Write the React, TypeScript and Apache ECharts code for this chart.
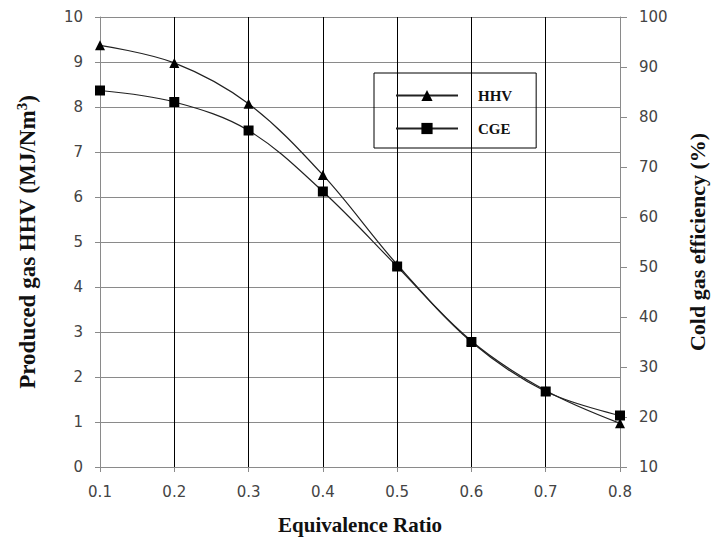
import React, { useEffect, useRef } from "react";
import * as echarts from "echarts";

const ratios = ["0.1", "0.2", "0.3", "0.4", "0.5", "0.6", "0.7", "0.8"];
const hhv = [9.37, 8.98, 8.07, 6.49, 4.5, 2.8, 1.7, 0.97];
const cge = [85.3, 83.0, 77.3, 65.1, 50.1, 35.0, 25.1, 20.3];

export default function App() {
  const ref = useRef<HTMLDivElement>(null);
  useEffect(() => {
    if (!ref.current) return;
    const chart = echarts.init(ref.current, null, { renderer: "svg" });
    const tickFont = { fontFamily: "DejaVu Sans", fontSize: 15, color: "#444" };
    const titleFont = { fontFamily: "Liberation Serif", fontWeight: "bold" as const, fontSize: 21, color: "#111" };
    const gray = "#8a8a8a";
    chart.setOption({
      animation: false,
      backgroundColor: "#fff",
      grid: { left: 100, right: 87, top: 17, bottom: 79 },
      legend: {
        orient: "vertical",
        left: 374,
        top: 73,
        borderColor: "#000",
        borderWidth: 1,
        padding: [15, 24, 12, 21],
        itemGap: 18,
        itemWidth: 62,
        itemHeight: 14,
        textStyle: {
          fontFamily: "Liberation Serif",
          fontWeight: "bold",
          fontSize: 15,
          lineHeight: 14,
          color: "#111",
          padding: [0, 0, 0, 15],
        },
        data: ["HHV", "CGE"],
      },
      xAxis: {
        type: "category",
        data: ratios,
        boundaryGap: false,
        name: "Equivalence Ratio",
        nameLocation: "middle",
        nameGap: 47,
        nameTextStyle: titleFont,
        axisLine: { lineStyle: { color: gray } },
        axisTick: { show: true, length: 5, lineStyle: { color: gray } },
        axisLabel: { ...tickFont, margin: 17 },
        splitLine: {
          show: true,
          lineStyle: { color: [gray, "#000", "#000", "#000", "#000", "#000", "#000", gray], width: 1 },
        },
      },
      yAxis: [
        {
          type: "value",
          min: 0,
          max: 10,
          interval: 1,
          name: "{a|Produced gas HHV (MJ/Nm}{s|3}{a|)}",
          nameLocation: "middle",
          nameGap: 60,
          nameTextStyle: {
            rich: {
              a: { ...titleFont, fontSize: 23 },
              s: { ...titleFont, fontSize: 15, verticalAlign: "top", padding: [0, 0, 11, 0] },
            },
          },
          axisLine: { show: true, lineStyle: { color: gray } },
          axisTick: { show: true, length: 5, lineStyle: { color: gray } },
          axisLabel: { ...tickFont, margin: 17 },
          splitLine: { show: true, lineStyle: { color: gray, width: 1 } },
        },
        {
          type: "value",
          min: 10,
          max: 100,
          interval: 10,
          name: "Cold gas efficiency (%)",
          nameLocation: "middle",
          nameGap: 66,
          nameRotate: 90,
          nameTextStyle: { ...titleFont, fontSize: 22 },
          axisLine: { show: true, lineStyle: { color: gray } },
          axisTick: { show: true, length: 7, lineStyle: { color: gray } },
          axisLabel: { ...tickFont, margin: 19 },
          splitLine: { show: false },
        },
      ],
      series: [
        {
          name: "HHV",
          type: "line",
          data: hhv,
          yAxisIndex: 0,
          smooth: 0.35,
          symbol: "triangle",
          symbolSize: 10,
          lineStyle: { color: "#222", width: 1.2 },
          itemStyle: { color: "#000" },
        },
        {
          name: "CGE",
          type: "line",
          data: cge,
          yAxisIndex: 1,
          smooth: 0.35,
          symbol: "rect",
          symbolSize: 10,
          lineStyle: { color: "#222", width: 1.2 },
          itemStyle: { color: "#000" },
        },
      ],
    });
    return () => chart.dispose();
  }, []);
  return (
    <div
      ref={ref}
      style={{ position: "absolute", left: 0, top: 0, width: 716, height: 546 }}
    />
  );
}
